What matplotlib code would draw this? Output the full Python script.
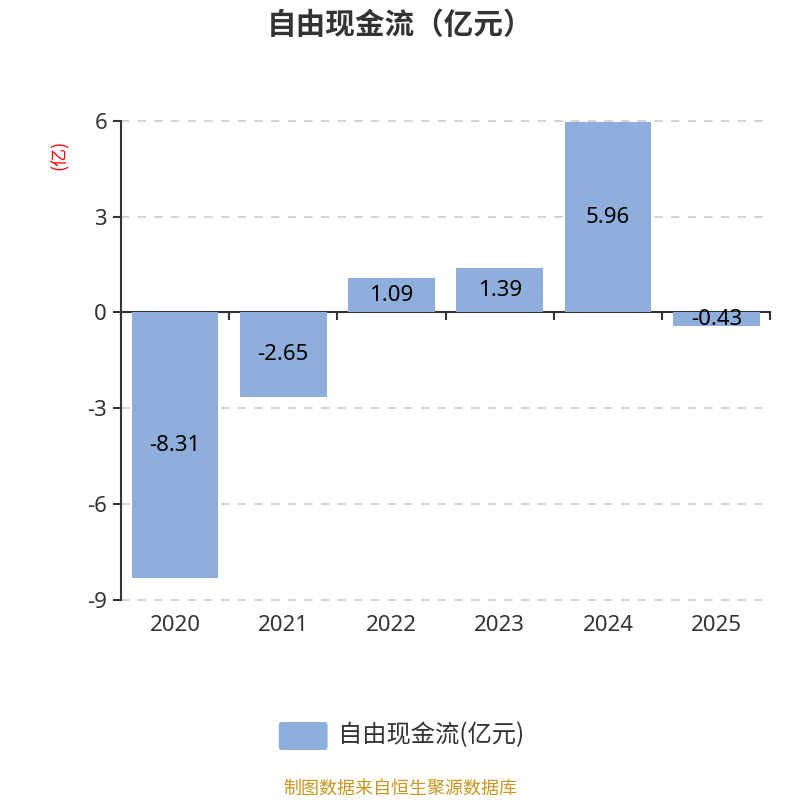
import matplotlib
matplotlib.use("Agg")
import matplotlib.pyplot as plt
import numpy as np
from matplotlib.patches import FancyBboxPatch

plt.rcParams['font.family'] = ['Noto Sans', 'Noto Sans CJK SC', 'DejaVu Sans']

years = ["2020", "2021", "2022", "2023", "2024", "2025"]
values = [-8.31, -2.65, 1.09, 1.39, 5.96, -0.43]
yticks = [-9, -6, -3, 0, 3, 6]

bar_color = "#8eaedb"
text_color = "#333333"
cjk = ['Noto Sans CJK SC', 'DejaVu Sans']

fig = plt.figure(figsize=(8, 8), dpi=100)
ax = fig.add_axes([0.151, 0.25, 0.812, 0.599])

x = np.arange(len(years))
ax.bar(x, values, width=0.8, color=bar_color, zorder=3)
for xi, v in zip(x, values):
    ax.text(xi, v / 2, f"{v:.2f}", ha="center", va="center", fontsize=16, color="black", zorder=4)

ax.set_xlim(-0.5, len(years) - 0.5)
ax.set_ylim(-9, 6)
ax.set_yticks(yticks)
ax.set_yticklabels([str(t) for t in yticks], fontsize=16, color=text_color)
for t in yticks:
    if t != 0:
        ax.axhline(t, color="#cccccc", linestyle=(0, (5, 5)), linewidth=1.2, zorder=1, clip_on=False)

# x axis line at zero, ticks on category boundaries
ax.spines["bottom"].set_position(("data", 0))
ax.spines["bottom"].set_color(text_color)
ax.spines["bottom"].set_linewidth(1.5)
ax.spines["left"].set_color(text_color)
ax.spines["left"].set_linewidth(1.5)
ax.spines["top"].set_visible(False)
ax.spines["right"].set_visible(False)
ax.set_xticks(np.arange(len(years) + 1) - 0.5)
ax.set_xticklabels([])
ax.tick_params(axis="x", direction="out", length=6, width=1.5, color=text_color)
ax.tick_params(axis="y", direction="out", length=6, width=1.5, color=text_color, pad=4)
for xi, yr in zip(x, years):
    ax.text(xi, -0.032, yr, transform=ax.get_xaxis_transform(), ha="center", va="top",
            fontsize=16, color=text_color)

fig.text(0.073, 0.807, "(亿)", rotation=90, color="red", fontsize=13, ha="center", va="center", family=cjk)
fig.text(0.5, 0.969, "自由现金流（亿元）", ha="center", va="center", fontsize=21.3, fontweight="bold",
         color=text_color, family=cjk)

# legend
fig.patches.append(FancyBboxPatch((0.3525, 0.0665), 0.053, 0.027,
                                  boxstyle="round,pad=0.004", transform=fig.transFigure,
                                  facecolor=bar_color, edgecolor="none"))
fig.text(0.422, 0.081, "自由现金流(亿元)", ha="left", va="center", fontsize=17.5, color=text_color, family=cjk)

fig.text(0.5, 0.014, "制图数据来自恒生聚源数据库", ha="center", va="center", fontsize=13, color="#c8961e", family=cjk)

fig.savefig("out.png", dpi=100)
